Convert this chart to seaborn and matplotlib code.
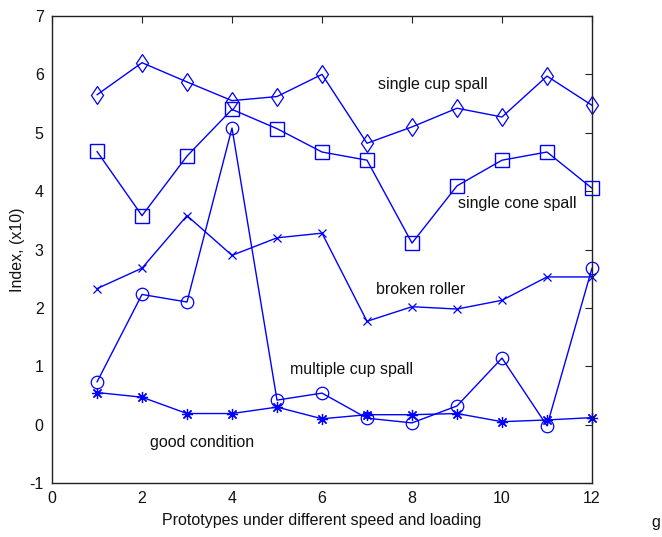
import matplotlib
matplotlib.use("Agg")
import matplotlib.pyplot as plt
import seaborn as sns
import pandas as pd

prototypes = list(range(1, 13))

single_cup_spall = [5.65, 6.20, 5.87, 5.55, 5.62, 6.00, 4.82, 5.10, 5.42, 5.27, 5.97, 5.47]
single_cone_spall = [4.68, 3.58, 4.60, 5.40, 5.07, 4.67, 4.53, 3.11, 4.09, 4.53, 4.67, 4.05]
broken_roller = [2.33, 2.68, 3.58, 2.90, 3.20, 3.28, 1.77, 2.02, 1.98, 2.13, 2.53, 2.53]
multiple_cup_spall = [0.73, 2.23, 2.10, 5.08, 0.42, 0.54, 0.11, 0.03, 0.32, 1.14, -0.02, 2.68]
good_condition = [0.55, 0.47, 0.19, 0.19, 0.30, 0.10, 0.17, 0.17, 0.19, 0.05, 0.08, 0.12]

series_names = ["single cup spall", "single cone spall", "broken roller",
                "multiple cup spall", "good condition"]
series_values = [single_cup_spall, single_cone_spall, broken_roller,
                 multiple_cup_spall, good_condition]

x_ticks = [0, 2, 4, 6, 8, 10, 12]
y_ticks = [-1, 0, 1, 2, 3, 4, 5, 6, 7]

sns.set_theme(style="white")
plt.rcParams["font.family"] = ["Liberation Sans", "DejaVu Sans"]

fig = plt.figure(figsize=(6.62, 5.37), dpi=100)
ax = fig.add_axes([52 / 662, 54 / 537, 540 / 662, 467 / 537])

blue = "#0000ff"
marker_styles = {
    "single cup spall": dict(marker="d", markersize=9.5, mew=0.9),
    "single cone spall": dict(marker="s", markersize=10, mew=1.0),
    "broken roller": dict(marker="x", markersize=6, mew=0.9),
    "multiple cup spall": dict(marker="o", markersize=9, mew=0.9),
    "good condition": dict(marker=(8, 2, 0), markersize=8, mew=0.9),
}

for name, vals in zip(series_names, series_values):
    df = pd.DataFrame({"prototype": prototypes, "index": vals})
    st = marker_styles[name]
    sns.lineplot(data=df, x="prototype", y="index", ax=ax, color=blue,
                 linewidth=1.0, marker=st["marker"], markersize=st["markersize"],
                 markeredgewidth=st["mew"], markeredgecolor=blue,
                 markerfacecolor="none", fillstyle="none", clip_on=False)

labels_pos = {
    "single cup spall": (7.24, 5.83),
    "single cone spall": (9.02, 3.78),
    "broken roller": (7.20, 2.32),
    "multiple cup spall": (5.29, 0.95),
    "good condition": (2.18, -0.30),
}
for name, (lx, ly) in labels_pos.items():
    ax.text(lx, ly, name, fontsize=11.5, color="#111111", va="center", ha="left")

ax.set_xlim(0, 12)
ax.set_ylim(-1, 7)
ax.set_xticks(x_ticks)
ax.set_yticks(y_ticks)
ax.set_xticklabels([str(t) for t in x_ticks])
ax.set_yticklabels([str(t) for t in y_ticks])
ax.tick_params(direction="in", length=5, width=0.8, color="#222222",
               top=True, right=True, labelsize=11.5, pad=6, labelcolor="#111111")
ax.set_xlabel("Prototypes under different speed and loading", fontsize=11.5,
              color="#111111", labelpad=5)
ax.set_ylabel("Index, (x10)", fontsize=11.5, color="#111111", labelpad=3)
for sp in ax.spines.values():
    sp.set_visible(True)
    sp.set_color("#222222")
    sp.set_linewidth(1.0)
ax.grid(False)

fig.text(651 / 662, 1 - 523 / 537, "g", fontsize=11.5, color="#111111",
         ha="left", va="center")

fig.savefig("out.png", dpi=100, facecolor="white")
